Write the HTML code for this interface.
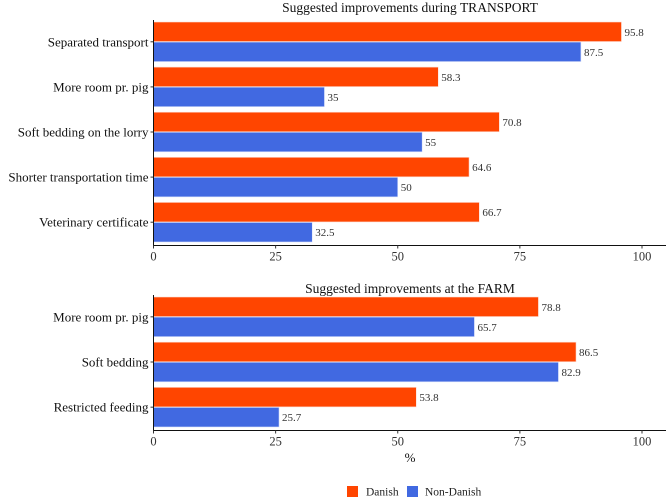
<!DOCTYPE html>
<html><head><meta charset="utf-8"><style>
body{margin:0;background:#fff;}
svg{display:block;font-family:"Liberation Serif",serif;}
</style></head><body>
<svg id="c" width="669" height="504"></svg>
<script>
const transportCats=["Separated transport","More room pr. pig","Soft bedding on the lorry","Shorter transportation time","Veterinary certificate"];
const transportDanish=[95.8,58.3,70.8,64.6,66.7];
const transportNonDanish=[87.5,35,55,50,32.5];
const farmCats=["More room pr. pig","Soft bedding","Restricted feeding"];
const farmDanish=[78.8,86.5,53.8];
const farmNonDanish=[65.7,82.9,25.7];
const ticks=[0,25,50,75,100];
const svg=document.getElementById('c');
const NS='http://www.w3.org/2000/svg';
function mk(t,a,p){const e=document.createElementNS(NS,t);for(const k in a)e.setAttribute(k,a[k]);(p||svg).appendChild(e);return e;}
const x0=153.5,x100=642;
const sx=v=>x0+(x100-x0)*v/100;
function panel(title,titleY,cats,dan,non,top,axisY,name){
  const g=mk('g',{});
  
  
  const t=mk('text',{x:410,y:titleY,'text-anchor':'middle','font-size':13.5,fill:'#111'},g);
  t.textContent=title;
  
  
  const step=(axisY-top)/cats.length;
  cats.forEach((c,i)=>{
    const y=top+i*step+2;
    const bh=(step-6)/2;
    const r1=mk('rect',{x:sx(0),y:y,width:sx(dan[i])-sx(0),height:bh,fill:'#ff4500',stroke:'#fde0d8','stroke-width':0.6},g);
    
    
    const r2=mk('rect',{x:sx(0),y:y+bh+0.5,width:sx(non[i])-sx(0),height:bh,fill:'#4169e1',stroke:'#dde4fb','stroke-width':0.6},g);
    
    
    const l1=mk('text',{x:sx(dan[i])+3,y:y+bh/2+4,'font-size':11,fill:'#333'},g);l1.textContent=dan[i];
    
    
    const l2=mk('text',{x:sx(non[i])+3,y:y+bh*1.5+4.5,'font-size':11,fill:'#333'},g);l2.textContent=non[i];
    
    
    const cy=y+bh+0.25;
    const cl=mk('text',{x:x0-5,y:cy+4.5,'text-anchor':'end','font-size':13,fill:'#111'},g);cl.textContent=c;
    
    
    mk('line',{x1:x0-3,x2:x0,y1:cy,y2:cy,stroke:'#333','stroke-width':1},g);
  });
  mk('line',{x1:x0,x2:x0,y1:top,y2:axisY,stroke:'#111','stroke-width':1},g);
  mk('line',{x1:x0,x2:666,y1:axisY,y2:axisY,stroke:'#111','stroke-width':1},g);
  ticks.forEach(v=>{
    mk('line',{x1:sx(v),x2:sx(v),y1:axisY,y2:axisY+3,stroke:'#333'},g);
    const tl=mk('text',{x:sx(v),y:axisY+15,'text-anchor':'middle','font-size':12.5,fill:'#333'},g);tl.textContent=v;
    
    
  });
}
panel('Suggested improvements during TRANSPORT',12,transportCats,transportDanish,transportNonDanish,20,245.5,'transport-panel');
panel('Suggested improvements at the FARM',293,farmCats,farmDanish,farmNonDanish,295,430.5,'farm-panel');
const xt=mk('text',{x:410,y:462,'text-anchor':'middle','font-size':13,fill:'#111'});xt.textContent='%';


const lg=mk('g',{});


mk('rect',{x:347,y:486,width:11,height:11,fill:'#ff4500'},lg);
const t1=mk('text',{x:366,y:495.5,'font-size':11.5,fill:'#222'},lg);t1.textContent='Danish';
mk('rect',{x:407,y:486,width:11,height:11,fill:'#4169e1'},lg);
const t2=mk('text',{x:425,y:495.5,'font-size':11.5,fill:'#222'},lg);t2.textContent='Non-Danish';
</script>
</body></html>
